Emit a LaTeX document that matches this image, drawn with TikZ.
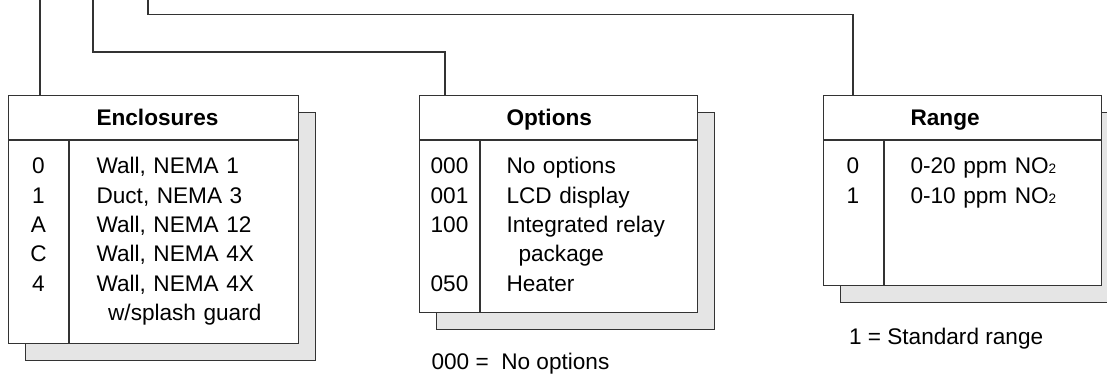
\documentclass[tikz,border=0pt]{standalone}
\usepackage{fontspec}
\setmainfont{Liberation Sans}
\usetikzlibrary{positioning}

\begin{document}
\begin{tikzpicture}[x=0.5pt,y=-0.5pt,line width=0.55pt,draw=black!80,
 font=\fontsize{11.3}{14.65}\selectfont,
 panel/.style={draw,fill=white,anchor=north west,inner sep=0pt},
 shadow box/.style={panel,fill=black!10},
 head/.style={inner sep=0pt,anchor=base west,font=\fontsize{11.3}{14.65}\selectfont\bfseries},
 desc/.style={inner sep=0pt,anchor=base west,text width=100pt,align=left},
 code/.style={inner sep=0pt,anchor=base,text width=30pt,align=center},
 note/.style={inner sep=0pt,anchor=base west}]

  \useasboundingbox (0,0) rectangle (1107,379);

  % boxes with their shadows
  \foreach \n/\x/\w/\h in {enc/8/145/124, opt/419/139/108.5, rng/823/139/95} {
    \node[shadow box,minimum width=\w pt,minimum height=\h pt] (\n-s) at (\x+17,112) {};
    \node[panel,minimum width=\w pt,minimum height=\h pt] (\n) at (\x,95) {};
    \draw ([yshift=-22.5pt]\n.north west) -- ([yshift=-22.5pt]\n.north east);
    \draw ([shift={(61,45)}]\n.north west) -- ([xshift=30.5pt]\n.south west);
  }

  % Enclosures
  \node[head] (enc-head) at ([shift={(88,31)}]enc.north west) {Enclosures};
  \node[code] (enc-code) at ([shift={(30.5,79)}]enc.north west) {0\\1\\A\\C\\4};
  \node[desc] (enc-desc) at ([shift={(88,79)}]enc.north west)
    {Wall, NEMA 1\\Duct, NEMA 3\\Wall, NEMA 12\\Wall, NEMA 4X\\Wall, NEMA 4X\\\hspace*{5.8pt}w/splash guard};

  % Options
  \node[head] (opt-head) at ([shift={(87,31)}]opt.north west) {Options};
  \node[code] (opt-code) at ([shift={(30.5,79)}]opt.north west) {000\\001\\100\\\mbox{}\\050};
  \node[desc] (opt-desc) at ([shift={(87,79)}]opt.north west)
    {No options\\LCD display\\Integrated relay\\\hspace*{6pt}package\\Heater};
  \node[note] (opt-note) at ([shift={(12,56)}]opt.south west) {000 =\ \ No options};

  % Range
  \node[head] (rng-head) at ([shift={(87,31)}]rng.north west) {Range};
  \node[code] (rng-code) at ([shift={(30,79)}]rng.north west) {0\\1};
  \node[desc] (rng-desc) at ([shift={(87,79)}]rng.north west)
    {0-20 ppm NO{\fontsize{6.8}{8}\selectfont 2}\\0-10 ppm NO{\fontsize{6.8}{8}\selectfont 2}};
  \node[note] (rng-note) at ([shift={(25.5,58)}]rng.south west) {1 = Standard range};

  % connectors from the top edge
  \coordinate (top1) at (40,0);
  \coordinate (top2) at (93,0);
  \coordinate (top3) at (148,0);
  \coordinate (bend2) at (445,52);
  \coordinate (bend3) at (853,14.7);
  \draw (top1) -- (top1 |- enc.north);
  \draw (top2) |- (bend2) -- (bend2 |- opt.north);
  \draw (top3) |- (bend3) -- (bend3 |- rng.north);

\end{tikzpicture}
\end{document}
